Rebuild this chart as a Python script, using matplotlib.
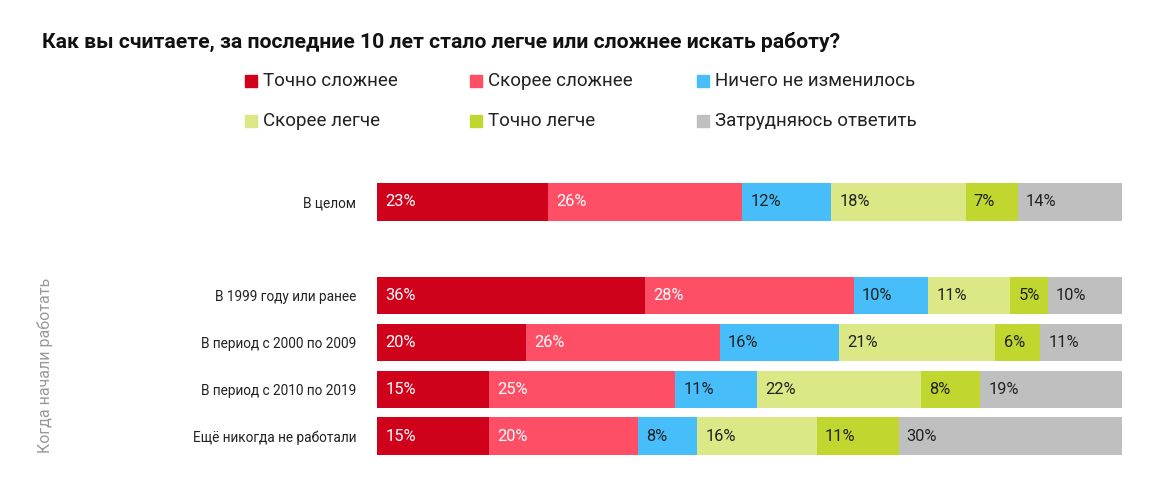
import matplotlib
matplotlib.use("Agg")
import matplotlib.pyplot as plt
from matplotlib.patches import Rectangle

plt.rcParams['font.family'] = ['Roboto', 'DejaVu Sans']

title = "Как вы считаете, за последние 10 лет стало легче или сложнее искать работу?"
categories = ["В целом", "В 1999 году или ранее", "В период с 2000 по 2009",
              "В период с 2010 по 2019", "Ещё никогда не работали"]
series_names = ["Точно сложнее", "Скорее сложнее", "Ничего не изменилось",
                "Скорее легче", "Точно легче", "Затрудняюсь ответить"]
values = [
    [23, 36, 20, 15, 15],
    [26, 28, 26, 25, 20],
    [12, 10, 16, 11, 8],
    [18, 11, 21, 22, 16],
    [7, 5, 6, 8, 11],
    [14, 10, 11, 19, 30],
]
colors = ["#D0021B", "#FF4F66", "#47BEF9", "#DCE885", "#C1D72F", "#BFBFBF"]
text_colors = ["white", "white", "#222222", "#222222", "#222222", "#222222"]
positions = [0, 2, 3, 4, 5]
group_label = "Когда начали работать"

fig = plt.figure(figsize=(11.54, 4.82), dpi=100)
W, H = 1154, 482
x0, x1 = 377, 1122
top_px, bot_px = 178.3, 459.7
ax = fig.add_axes([x0 / W, 1 - bot_px / H, (x1 - x0) / W, (bot_px - top_px) / H])

left = [0] * len(categories)
for s, name in enumerate(series_names):
    vals = values[s]
    ax.barh(positions, vals, left=left, height=0.8, color=colors[s], edgecolor='none')
    for i, v in enumerate(vals):
        ax.text(left[i] + 1.1, positions[i], f"{v}%", va='center', ha='left',
                fontsize=11.8, color=text_colors[s])
    left = [l + v for l, v in zip(left, vals)]

ax.set_xlim(0, 100)
ax.set_ylim(5.5, -0.5)
ax.set_yticks(positions)
ax.set_yticklabels(categories, fontsize=9.8, color="#222222")
ax.tick_params(axis='y', length=0, pad=15)
ax.set_xticks([])
for sp in ax.spines.values():
    sp.set_visible(False)

fig.text(42 / W, 1 - 42 / H, title, fontsize=15.2, fontweight='bold', color='#111111',
         va='center', ha='left')

leg_cols = [245, 470, 697]
leg_rows = [81, 121]
for k, name in enumerate(series_names):
    cx = leg_cols[k % 3]
    cy = leg_rows[k // 3]
    fig.patches.append(Rectangle((cx / W, 1 - (cy + 6) / H), 12 / W, 12 / H,
                                 transform=fig.transFigure, color=colors[k]))
    fig.text((cx + 18) / W, 1 - cy / H, name, fontsize=13.5, color='#222222',
             va='center', ha='left')

fig.text(45 / W, 1 - 365 / H, group_label, rotation=90, fontsize=11.5,
         color='#999999', va='center', ha='center')

fig.savefig("out.png", dpi=100, facecolor='white')
